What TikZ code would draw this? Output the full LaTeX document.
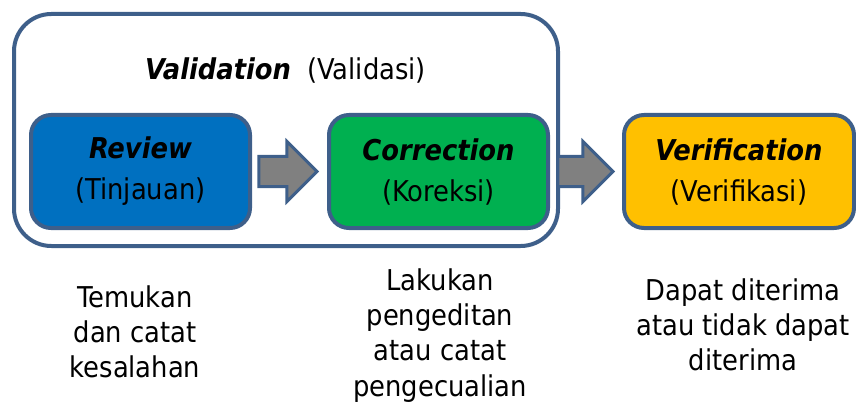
\documentclass[tikz,border=0pt]{standalone}
\usepackage{fontspec}
\setmainfont{DejaVu Sans Condensed}
\usetikzlibrary{shapes.arrows,calc}
\definecolor{frameblue}{HTML}{3E5F8A}
\definecolor{reviewblue}{HTML}{0070C0}
\definecolor{correctgreen}{HTML}{00B050}
\definecolor{verifyyellow}{HTML}{FFC000}
\definecolor{arrowgray}{HTML}{808080}
\begin{document}
\begin{tikzpicture}[x=0.75pt,y=-0.75pt,
		stagebox/.style={draw=frameblue, line width=3pt, rounded corners=15pt, minimum height=84.75pt, align=center, inner sep=0pt, font=\fontsize{21.5}{30.75}\selectfont},
		blockarrow/.style={single arrow, draw=frameblue, fill=arrowgray, line width=2.25pt, inner xsep=0pt, inner ysep=10.125pt, single arrow head extend=11.25pt, single arrow tip angle=90, anchor=tip},
		note/.style={align=center, inner sep=0pt, anchor=north, font=\fontsize{21.5}{26.6}\selectfont}]
		
		\useasboundingbox (0,0) rectangle (856,406);
		
		\node[draw=frameblue, line width=3pt, rounded corners=28pt, minimum width=408pt, minimum height=174pt] (validbox) at (286,130) {};
		\node[anchor=base, inner sep=0pt, font=\fontsize{21.5}{24}\selectfont] (validtitle) at (285.5,80) {\textbf{\textit{Validation}}\ \ (Validasi)};
		
		\node[stagebox, fill=reviewblue, minimum width=164.25pt] (review) at (140.5,171.5) {\textbf{\textit{Review}}\\(Tinjauan)};
		\node[stagebox, fill=correctgreen, minimum width=164.25pt] (correction) at (438.5,171.5) {\textbf{\textit{Correction}}\\(Koreksi)};
		\node[stagebox, fill=verifyyellow, minimum width=172.5pt] (verification) at (739,171.5) {\textbf{\textit{Verification}}\\(Verifikasi)};
		
		\node[blockarrow, minimum height=43.5pt] (arrowa) at ($(correction.west)+(-8,0)$) {};
		\node[blockarrow, minimum height=41.25pt] (arrowb) at ($(verification.west)+(-7,0)$) {};
		
		\node[note] (reviewnote) at (135,285) {Temukan\\dan catat\\kesalahan};
		\node[note] (correctnote) at (440,268) {Lakukan\\pengeditan\\atau catat\\pengecualian};
		\node[note] (verifynote) at (743,278) {Dapat diterima\\atau tidak dapat\\diterima};
		
	\end{tikzpicture}
\end{document}
